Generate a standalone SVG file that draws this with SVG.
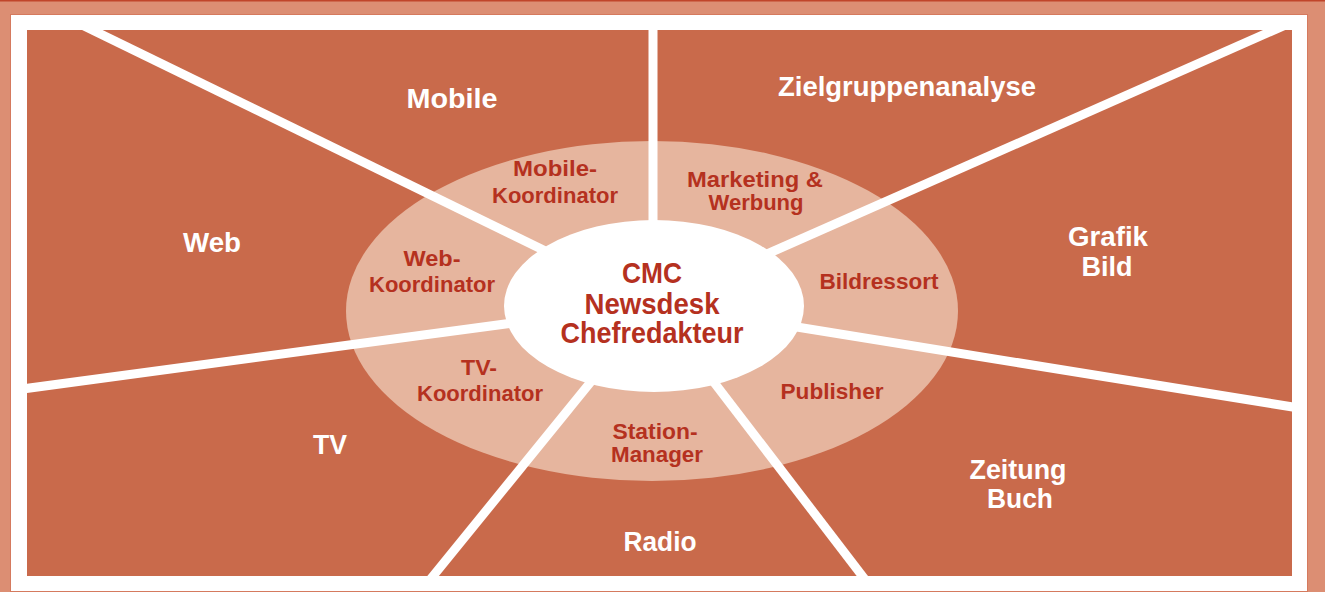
<svg xmlns="http://www.w3.org/2000/svg" width="1325" height="592" viewBox="0 0 1325 592">
  <style>
    .w{font-family:"Liberation Sans",Arial,sans-serif;font-weight:bold;font-size:27px;fill:#ffffff;text-anchor:middle}
    .r{font-family:"Liberation Sans",Arial,sans-serif;font-weight:bold;font-size:22px;fill:#B5311F;text-anchor:middle}
    .c{font-family:"Liberation Sans",Arial,sans-serif;font-weight:bold;font-size:30px;fill:#B5311F;text-anchor:middle}
    .ln{stroke:#ffffff;stroke-width:9;fill:none}
  </style>
  <defs>
    <clipPath id="inner"><rect x="27" y="30" width="1265" height="546"/></clipPath>
  </defs>
  <rect x="0" y="0" width="1325" height="592" fill="#DC8E73"/>
  <rect x="0" y="0" width="1325" height="1.5" fill="#C0452A"/>
  <rect x="10.5" y="14.5" width="1297" height="577" fill="#ffffff" stroke="#D57A5E" stroke-width="1"/>
  <rect x="27" y="30" width="1265" height="546" fill="#C96A4B"/>
  <ellipse cx="652" cy="311" rx="306" ry="170" fill="#E6B59E"/>
  <g id="connectors" clip-path="url(#inner)">
    <line class="ln" x1="654" y1="304" x2="78" y2="23"/>
    <line class="ln" x1="653" y1="304" x2="653" y2="20"/>
    <line class="ln" x1="654" y1="304" x2="1290" y2="23"/>
    <line class="ln" x1="654" y1="304" x2="1305" y2="409"/>
    <line class="ln" x1="654" y1="304" x2="870" y2="586"/>
    <line class="ln" x1="654" y1="304" x2="425" y2="586"/>
    <line class="ln" x1="654" y1="304" x2="15" y2="390"/>
  </g>
  <g id="center">
    <ellipse cx="654" cy="306" rx="150" ry="86" fill="#ffffff"/>
    <text class="c" x="652" y="283" textLength="60" lengthAdjust="spacingAndGlyphs">CMC</text>
    <text class="c" x="652" y="314" textLength="135" lengthAdjust="spacingAndGlyphs">Newsdesk</text>
    <text class="c" x="652" y="343" textLength="183" lengthAdjust="spacingAndGlyphs">Chefredakteur</text>
  </g>
  <g id="mobile-koordinator">
    <text class="r" x="555" y="176" textLength="84" lengthAdjust="spacingAndGlyphs">Mobile-</text>
    <text class="r" x="555" y="203" textLength="126" lengthAdjust="spacingAndGlyphs">Koordinator</text>
  </g>
  <g id="marketing">
    <text class="r" x="755" y="187" textLength="136" lengthAdjust="spacingAndGlyphs">Marketing &amp;</text>
    <text class="r" x="756" y="210" textLength="95" lengthAdjust="spacingAndGlyphs">Werbung</text>
  </g>
  <g id="web-koordinator">
    <text class="r" x="432" y="266" textLength="57" lengthAdjust="spacingAndGlyphs">Web-</text>
    <text class="r" x="432" y="292" textLength="126" lengthAdjust="spacingAndGlyphs">Koordinator</text>
  </g>
  <g id="bildressort">
    <text class="r" x="879" y="289" textLength="119" lengthAdjust="spacingAndGlyphs">Bildressort</text>
  </g>
  <g id="tv-koordinator">
    <text class="r" x="479" y="375" textLength="36" lengthAdjust="spacingAndGlyphs">TV-</text>
    <text class="r" x="480" y="401" textLength="126" lengthAdjust="spacingAndGlyphs">Koordinator</text>
  </g>
  <g id="publisher">
    <text class="r" x="832" y="399" textLength="103" lengthAdjust="spacingAndGlyphs">Publisher</text>
  </g>
  <g id="station-manager">
    <text class="r" x="655" y="439" textLength="85" lengthAdjust="spacingAndGlyphs">Station-</text>
    <text class="r" x="657" y="462" textLength="92" lengthAdjust="spacingAndGlyphs">Manager</text>
  </g>
  <g id="mobile">
    <text class="w" x="452" y="108" textLength="91" lengthAdjust="spacingAndGlyphs">Mobile</text>
  </g>
  <g id="zielgruppenanalyse">
    <text class="w" x="907" y="96" textLength="258" lengthAdjust="spacingAndGlyphs">Zielgruppenanalyse</text>
  </g>
  <g id="web">
    <text class="w" x="212" y="252" textLength="58" lengthAdjust="spacingAndGlyphs">Web</text>
  </g>
  <g id="grafik-bild">
    <text class="w" x="1108" y="246" textLength="80" lengthAdjust="spacingAndGlyphs">Grafik</text>
    <text class="w" x="1107" y="276" textLength="51" lengthAdjust="spacingAndGlyphs">Bild</text>
  </g>
  <g id="tv">
    <text class="w" x="330" y="454" textLength="34" lengthAdjust="spacingAndGlyphs">TV</text>
  </g>
  <g id="radio">
    <text class="w" x="660" y="551" textLength="73" lengthAdjust="spacingAndGlyphs">Radio</text>
  </g>
  <g id="zeitung-buch">
    <text class="w" x="1018" y="479" textLength="97" lengthAdjust="spacingAndGlyphs">Zeitung</text>
    <text class="w" x="1020" y="508" textLength="66" lengthAdjust="spacingAndGlyphs">Buch</text>
  </g>
</svg>
